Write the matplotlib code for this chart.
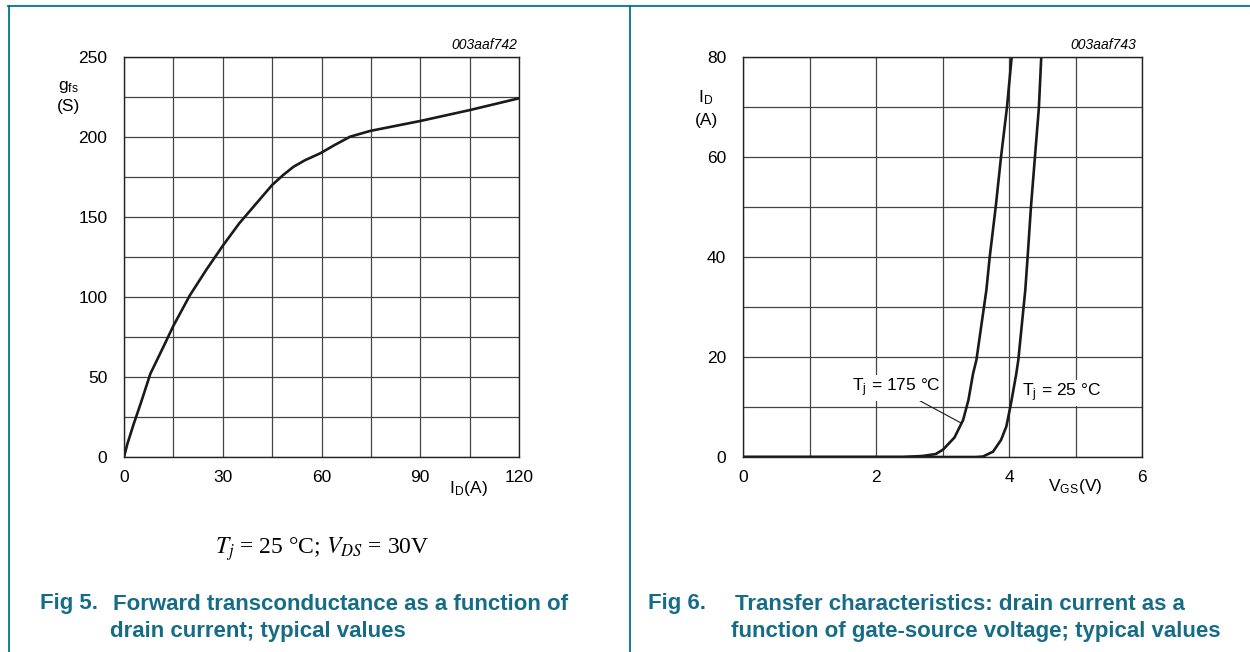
import matplotlib
matplotlib.use("Agg")
import matplotlib.pyplot as plt
from matplotlib.lines import Line2D

# Fig 5: forward transconductance vs drain current
id_a = [0, 1, 3, 5, 8, 12, 15, 20, 25, 30, 35, 40, 45, 48.4, 51.5, 55, 59.6,
        64, 68.7, 74.8, 90, 105.2, 120]
gfs_s = [0, 8, 21, 33, 52, 69, 82, 101, 117, 132, 146, 158, 170, 176.3, 181.4,
         185.5, 189.8, 195, 200.2, 203.8, 210, 216.9, 224.2]

# Fig 6: transfer characteristics
vgs_175 = [0, 2.4, 2.7, 2.9, 3.01, 3.18, 3.31, 3.39, 3.46, 3.51, 3.66, 3.71, 3.80, 3.88, 3.97, 4.04]
id_175 = [0, 0, 0.2, 0.6, 1.5, 3.9, 7.4, 11.4, 16.7, 19.4, 33.4, 40, 50, 60, 70, 80]
vgs_25 = [0, 3.5, 3.61, 3.76, 3.88, 3.96, 4.03, 4.11, 4.14, 4.245, 4.28, 4.33, 4.39, 4.45, 4.485]
id_25 = [0, 0, 0.1, 1.07, 3.4, 6.1, 10.7, 16.7, 19.4, 33.4, 40, 50, 60, 70, 80]

TEAL = "#00758f"
CAPTION = "#166c86"
GRID = "#444444"
FONT = ["Liberation Sans", "DejaVu Sans"]
FS = 12.5

plt.rcParams["font.family"] = FONT
plt.rcParams["mathtext.fontset"] = "stix"

W, H = 1250, 652
fig = plt.figure(figsize=(W / 100, H / 100), dpi=100)


def fx(px):
    return px / W


def fy(py):
    return 1 - py / H


def setup(ax, xmax, ymax, xstep, ystep, xlab_every, ylab_every):
    ax.set_xlim(0, xmax)
    ax.set_ylim(0, ymax)
    xt = [i * xstep for i in range(int(round(xmax / xstep)) + 1)]
    yt = [i * ystep for i in range(int(round(ymax / ystep)) + 1)]
    ax.set_xticks(xt, [f"{v:g}" if i % xlab_every == 0 else "" for i, v in enumerate(xt)])
    ax.set_yticks(yt, [f"{v:g}" if i % ylab_every == 0 else "" for i, v in enumerate(yt)])
    ax.tick_params(length=0, labelsize=FS, pad=9)
    ax.tick_params(axis="y", pad=12)
    ax.grid(True, color=GRID, linewidth=0.9)
    ax.set_axisbelow(True)
    for s in ax.spines.values():
        s.set_linewidth(1.0)
        s.set_color("#222222")


# left panel
ax1 = fig.add_axes([fx(124), fy(457), fx(519 - 124), (457 - 57) / H])
setup(ax1, 120, 250, 15, 25, 2, 2)
ax1.plot(id_a, gfs_s, color="#1a1a1a", linewidth=1.9, solid_capstyle="round",
         solid_joinstyle="round")
fig.text(fx(68), fy(87), r"g$_{\mathregular{fs}}$", fontsize=FS, ha="center", va="center")
fig.text(fx(68), fy(106), "(S)", fontsize=FS, ha="center", va="center")
fig.text(fx(468), fy(488), r"I$_{\mathregular{D}}$(A)", fontsize=FS, ha="center", va="center")
fig.text(fx(517), fy(45), "003aaf742", fontsize=10, style="italic", ha="right", va="center")
fig.text(fx(322), fy(549), r"$T_j$ = 25 °C; $V_{DS}$ = 30V", fontsize=17,
         family=["Liberation Serif", "DejaVu Serif"], ha="center", va="center")

# right panel
ax2 = fig.add_axes([fx(743), fy(457), fx(1142 - 743), (457 - 57) / H])
setup(ax2, 6, 80, 1, 10, 2, 2)
ax2.plot(vgs_175, id_175, color="#1a1a1a", linewidth=1.9, solid_capstyle="round",
         solid_joinstyle="round")
ax2.plot(vgs_25, id_25, color="#1a1a1a", linewidth=1.9, solid_capstyle="round",
         solid_joinstyle="round")
ax2.annotate(r"T$_{\mathregular{j}}$ = 175 °C", xy=(3.28, 6.8), xytext=(2.97, 13.8),
             fontsize=FS, ha="right", va="center",
             bbox=dict(facecolor="white", edgecolor="none", pad=1),
             arrowprops=dict(arrowstyle="-", color="#1a1a1a", linewidth=0.8,
                             shrinkA=0, shrinkB=0))
ax2.text(4.19, 12.8, r"T$_{\mathregular{j}}$ = 25 °C", fontsize=FS, ha="left", va="center",
         bbox=dict(facecolor="white", edgecolor="none", pad=1))
fig.text(fx(706), fy(98), r"I$_{\mathregular{D}}$", fontsize=FS, ha="center", va="center")
fig.text(fx(706), fy(121), "(A)", fontsize=FS, ha="center", va="center")
fig.text(fx(1075), fy(487), r"V$_{\mathregular{GS}}$(V)", fontsize=FS, ha="center", va="center")
fig.text(fx(1136), fy(45), "003aaf743", fontsize=10, style="italic", ha="right", va="center")

# captions
cap = dict(fontsize=16, fontweight="bold", color=CAPTION, va="center")
fig.text(fx(40), fy(604), "Fig 5.", **cap)
fig.text(fx(113), fy(604), "Forward transconductance as a function of", **cap)
fig.text(fx(110), fy(631), "drain current; typical values", **cap)
fig.text(fx(648), fy(604), "Fig 6.", **cap)
fig.text(fx(735), fy(604), "Transfer characteristics: drain current as a", **cap)
fig.text(fx(731), fy(631), "function of gate-source voltage; typical values", **cap)

# frame lines
fig.add_artist(Line2D([fx(8), 1], [fy(6), fy(6)], color=TEAL, linewidth=1.3))
fig.add_artist(Line2D([fx(9), fx(9)], [fy(6), 0], color=TEAL, linewidth=1.3))
fig.add_artist(Line2D([fx(630), fx(630)], [fy(6), 0], color=TEAL, linewidth=1.3))

fig.savefig("out.png", dpi=100)
